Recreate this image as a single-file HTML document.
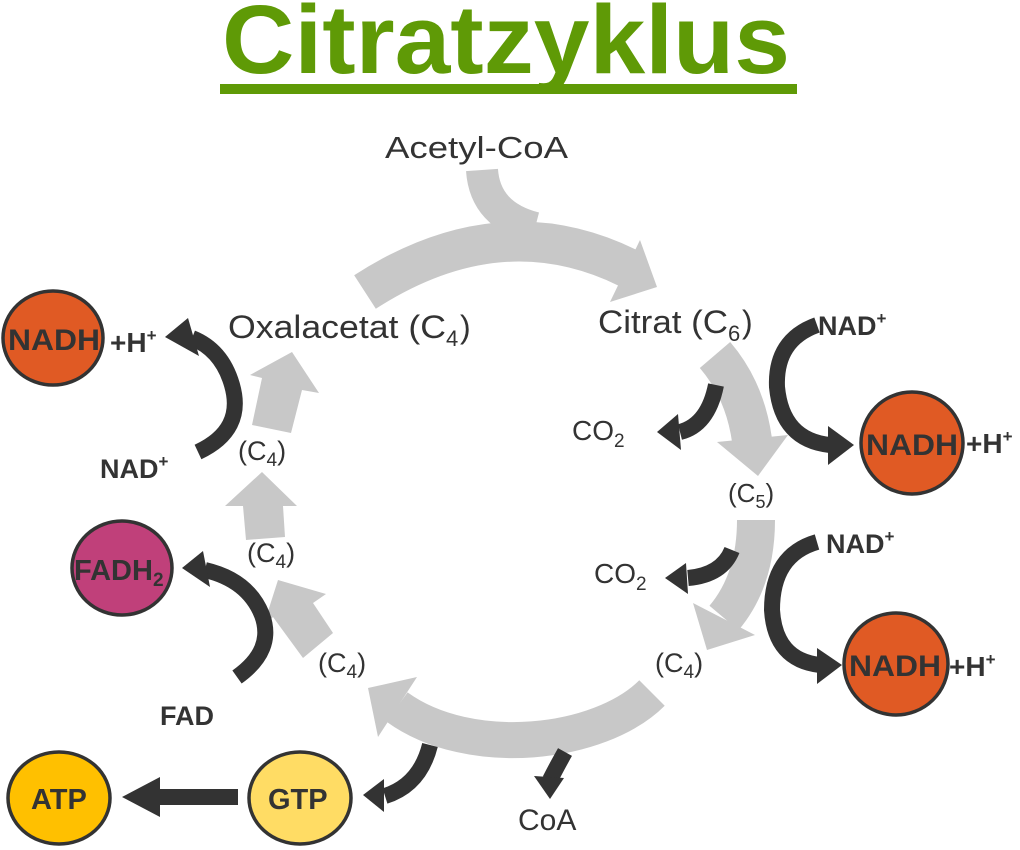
<!DOCTYPE html>
<html><head><meta charset="utf-8"><style>
html,body{margin:0;padding:0;background:#fff;}
svg{display:block;}
text{font-family:"Liberation Sans",Arial,sans-serif;}
</style></head><body>
<svg width="1020" height="850" viewBox="0 0 1020 850" xmlns="http://www.w3.org/2000/svg">
<text x="222" y="73" font-size="97" font-weight="bold" fill="#5f9a06" textLength="568" lengthAdjust="spacingAndGlyphs">Citratzyklus</text>
<rect x="220" y="84" width="577" height="10" fill="#5f9a06"/>

<g fill="none" stroke="#c8c8c8" stroke-linecap="butt">
<path d="M482 170 Q485 215 535 228" stroke-width="32"/>
<path d="M365 292 Q500 205 628 268" stroke-width="40"/>
<path d="M715 355 Q745 390 752 440" stroke-width="40"/>
<path d="M756 520 Q756 580 724 618" stroke-width="38"/>
<path d="M652 693 C600 745 470 760 397 707" stroke-width="36"/>
</g>
<g fill="#c8c8c8">
<polygon points="640,240 657,287 610,302"/>
<polygon points="717,442 788,435 758,476"/>
<polygon points="693,603 755,635 707,650"/>
<polygon points="368,688 417,677 378,737"/>
<polygon points="252,425 262,378 250,375 292,352 319,393 302,390 291,433"/>
<polygon points="246,540 243,506 225,506 262,472 297,506 283,506 285,537"/>
<polygon points="303,658 273,617 263,627 278,580 326,594 313,603 333,633"/>
</g>

<g fill="none" stroke="#333" stroke-width="16">
<path d="M198 452 Q245 430 232 385 Q222 350 192 338"/>
<path d="M237 677 Q275 650 262 615 Q248 580 205 570"/>
<path d="M238 797 L150 797"/>
<path d="M430 745 Q420 785 385 796"/>
<path d="M565 752 Q556 768 550 780"/>
<path d="M716 385 Q708 425 680 432"/>
<path d="M732 550 Q722 575 688 578"/>
<path d="M817 325 Q775 340 777 387 Q782 440 830 445"/>
<path d="M817 542 Q772 555 772 610 Q775 660 820 665"/>
</g>
<g fill="#333">
<polygon points="165,337 188,318 199,356"/>
<polygon points="182,568 203,551 210,587"/>
<polygon points="122,797 160,777 160,817"/>
<polygon points="363,795 384,779 384,812"/>
<polygon points="534,776 564,778 550,799"/>
<polygon points="657,432 678,414 681,450"/>
<polygon points="665,578 686,563 688,594"/>
<polygon points="854,445 828,426 828,465"/>
<polygon points="842,665 817,648 817,684"/>
</g>

<g stroke="#333" stroke-width="3.5">
<ellipse cx="53" cy="338" rx="50" ry="47" fill="#e05a24"/>
<ellipse cx="122" cy="568" rx="50" ry="47" fill="#c0407a"/>
<ellipse cx="59" cy="798" rx="51" ry="46" fill="#ffc000"/>
<ellipse cx="300" cy="798" rx="51" ry="46" fill="#ffdc64"/>
<ellipse cx="912" cy="443" rx="51" ry="51" fill="#e05a24"/>
<ellipse cx="896" cy="664" rx="52" ry="51" fill="#e05a24"/>
</g>

<g font-weight="bold" fill="#333" font-size="26">
<text x="8" y="350" font-size="30" textLength="92" lengthAdjust="spacingAndGlyphs">NADH</text>
<text x="74" y="580" font-size="29">FADH<tspan font-size="19" dy="6">2</tspan></text>
<text x="31" y="809" font-size="29">ATP</text>
<text x="268" y="809" font-size="29">GTP</text>
<text x="866" y="455" font-size="30" textLength="92" lengthAdjust="spacingAndGlyphs">NADH</text>
<text x="849" y="676" font-size="30" textLength="92" lengthAdjust="spacingAndGlyphs">NADH</text>
<text x="110" y="352" font-size="28">+H<tspan font-size="17" dy="-11">+</tspan></text>
<text x="100" y="478" font-size="27">NAD<tspan font-size="17" dy="-11">+</tspan></text>
<text x="160" y="725" font-size="27">FAD</text>
<text x="818" y="335" font-size="27">NAD<tspan font-size="17" dy="-11">+</tspan></text>
<text x="966" y="453" font-size="28">+H<tspan font-size="17" dy="-11">+</tspan></text>
<text x="826" y="553" font-size="27">NAD<tspan font-size="17" dy="-11">+</tspan></text>
<text x="949" y="676" font-size="28">+H<tspan font-size="17" dy="-11">+</tspan></text>
</g>

<g fill="#333">
<text x="385" y="158" font-size="31" textLength="183" lengthAdjust="spacingAndGlyphs">Acetyl-CoA</text>
<text x="228" y="338" font-size="32" textLength="218" lengthAdjust="spacingAndGlyphs">Oxalacetat (C</text><text x="446" y="346" font-size="22">4</text><text x="460" y="338" font-size="32">)</text>
<text x="598" y="333" font-size="32" textLength="130" lengthAdjust="spacingAndGlyphs">Citrat (C</text><text x="728" y="341" font-size="22">6</text><text x="742" y="333" font-size="32">)</text>
<text x="728" y="502" font-size="26">(C<tspan font-size="18" dy="6">5</tspan><tspan dy="-6">)</tspan></text>
<text x="238" y="460" font-size="27">(C<tspan font-size="19" dy="6">4</tspan><tspan dy="-6">)</tspan></text>
<text x="247" y="562" font-size="27">(C<tspan font-size="19" dy="6">4</tspan><tspan dy="-6">)</tspan></text>
<text x="318" y="672" font-size="27">(C<tspan font-size="19" dy="6">4</tspan><tspan dy="-6">)</tspan></text>
<text x="655" y="672" font-size="27">(C<tspan font-size="19" dy="6">4</tspan><tspan dy="-6">)</tspan></text>
<text x="572" y="440" font-size="28">CO<tspan font-size="19" dy="7">2</tspan></text>
<text x="594" y="583" font-size="28">CO<tspan font-size="19" dy="7">2</tspan></text>
<text x="518" y="830" font-size="30">CoA</text>
</g>
</svg>
</body></html>
